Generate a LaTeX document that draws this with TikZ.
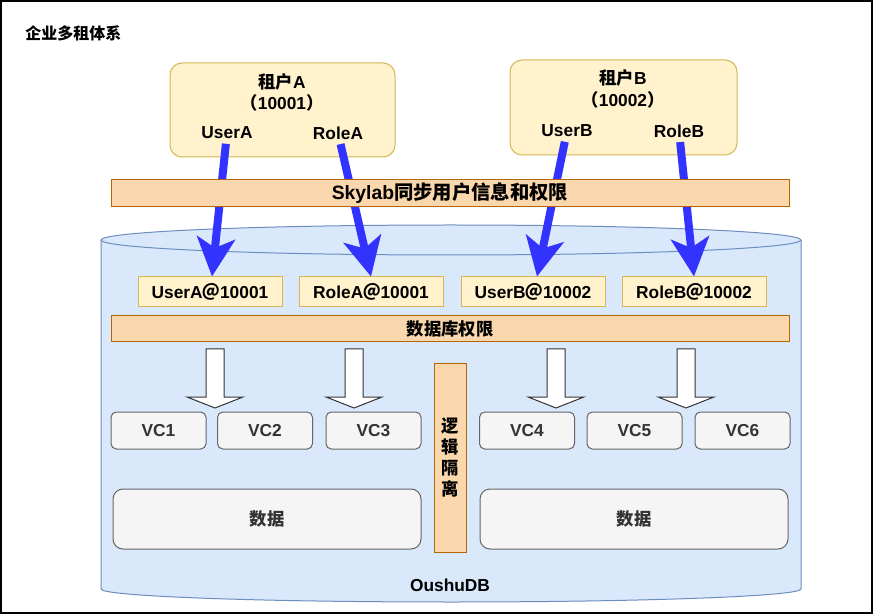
\documentclass[tikz,border=0pt]{standalone}
\usepackage{fontspec}
\setmainfont{Liberation Sans}
\newfontfamily\cjk{Noto Sans CJK SC}
\usetikzlibrary{arrows.meta,calc}
\definecolor{tenantF}{HTML}{FFF2CC}
\definecolor{tenantS}{HTML}{D6B656}
\definecolor{barF}{HTML}{FAD7AC}
\definecolor{barS}{HTML}{B46504}
\definecolor{cylF}{HTML}{DAE8FC}
\definecolor{cylS}{HTML}{6C8EBF}
\definecolor{vcF}{HTML}{F5F5F5}
\definecolor{vcS}{HTML}{666666}
\definecolor{vcT}{HTML}{333333}
\definecolor{blueA}{HTML}{3333FF}
\tikzset{
  sz/.style 2 args={minimum width={#1*0.75pt},minimum height={#2*0.75pt},inner sep=0pt},
  tenant/.style={draw=tenantS,fill=tenantF,line width=0.75pt,rounded corners=9pt},
  txt/.style={font=\fontsize{13pt}{16pt}\selectfont\bfseries},
  barbox/.style={draw=barS,fill=barF,line width=0.75pt,txt},
  idbox/.style={draw=tenantS,fill=tenantF,line width=0.75pt,txt},
  vcbox/.style={draw=vcS,fill=vcF,line width=0.75pt,rounded corners=4pt,text=vcT,txt},
  databox/.style={draw=vcS,fill=vcF,line width=0.75pt,rounded corners=7.5pt,text=vcT,txt},
  bluearr/.style={draw=blueA,line width=6pt,-{Stealth[length=29pt,width=28.5pt,inset=7.5pt]}},
  blockarr/.style={draw=black!80,fill=white,line width=0.75pt,line join=miter},
}
\newcommand\blkarrow[1]{%
  \draw[blockarr] ({#1-9},349) -- ({#1+9},349) -- ({#1+9},397) -- ({#1+28},397)
    -- (#1,408) -- ({#1-28},397) -- ({#1-9},397) -- cycle;}
\begin{document}
\begin{tikzpicture}[x=0.75pt,y=-0.75pt,txt]
\useasboundingbox (0,0) rectangle (874,616);
\fill[white] (0,0) rectangle (874,616);
\draw[line width=1.5pt] (1,1) rectangle (872,613);

% title
\node[anchor=west,inner sep=0pt,font=\cjk\fontsize{12pt}{14pt}\selectfont\bfseries] (title) at (25,33) {企业多租体系};

% cylinder
\path[fill=cylF,draw=cylS,line width=0.75pt]
  (101,240) -- (101,589)
  .. controls (101,596.2) and (257.7,602) .. (451,602)
  .. controls (644.3,602) and (801,596.2) .. (801,589)
  -- (801,240);
\path[fill=cylF,draw=cylS,line width=0.75pt] (451,240) ellipse [x radius=350, y radius=15];
\node (db) at (450,585) {OushuDB};

% tenants
\node[tenant,sz={225}{94}] (tenA) at (282.5,110) {};
\node[tenant,sz={227}{95}] (tenB) at (623.5,107.5) {};
\node (tAname) at (282,82) {{\cjk 租户}A};
\node (tAid) at (282,103) {{\cjk （}10001{\cjk ）}};
\node (uA) at (227,133) {UserA};
\node (rA) at (338,133) {RoleA};
\node (tBname) at (623,78) {{\cjk 租户}B};
\node (tBid) at (623,100) {{\cjk （}10002{\cjk ）}};
\node (uB) at (567,131) {UserB};
\node (rB) at (679,131) {RoleB};

% id boxes
\node[idbox,sz={144}{30}] (uAt) at (210,292) {UserA{\cjk ＠}10001};
\node[idbox,sz={144}{30}] (rAt) at (371,292) {RoleA{\cjk ＠}10001};
\node[idbox,sz={144}{30}] (uBt) at (533,292) {UserB{\cjk ＠}10002};
\node[idbox,sz={144}{30}] (rBt) at (694,292) {RoleB{\cjk ＠}10002};

% blue arrows
\draw[bluearr] (uA) -- ($(uAt.north)+(2,0)$);
\draw[bluearr] (rA) -- (rAt.north);
\draw[bluearr] (uB) -- ($(uBt.north)+(4,0)$);
\draw[bluearr] (rB) -- (rBt.north);

% bars
\node[barbox,sz={678}{27},font=\fontsize{14.5pt}{17pt}\selectfont\bfseries] (sky) at (450,193.5) {Skylab{\cjk 同步用户信息和权限}};
\node[barbox,sz={678}{26}] (dbperm) at (450,329) {\cjk 数据库权限};

% block arrows
\blkarrow{215}
\blkarrow{354}
\blkarrow{556}
\blkarrow{686}

% VC boxes
\node[vcbox,sz={95}{37}] (vc1) at (158.5,430.5) {VC1};
\node[vcbox,sz={95}{37}] (vc2) at (265,430.5) {VC2};
\node[vcbox,sz={95}{37}] (vc3) at (373.5,430.5) {VC3};
\node[vcbox,sz={95}{37}] (vc4) at (527,430.5) {VC4};
\node[vcbox,sz={95}{37}] (vc5) at (634.5,430.5) {VC5};
\node[vcbox,sz={95}{37}] (vc6) at (742.5,430.5) {VC6};

% isolation bar
\node[barbox,sz={32}{188}] (iso) at (450,458) {};
\node[align=center,font=\cjk\fontsize{13pt}{15.75pt}\selectfont\bfseries] (isotxt) at (450,458) {逻\\辑\\隔\\离};

% data boxes
\node[databox,sz={308}{60}] (dataL) at (267,519) {\cjk 数据};
\node[databox,sz={308}{60}] (dataR) at (634,519) {\cjk 数据};
\end{tikzpicture}
\end{document}
